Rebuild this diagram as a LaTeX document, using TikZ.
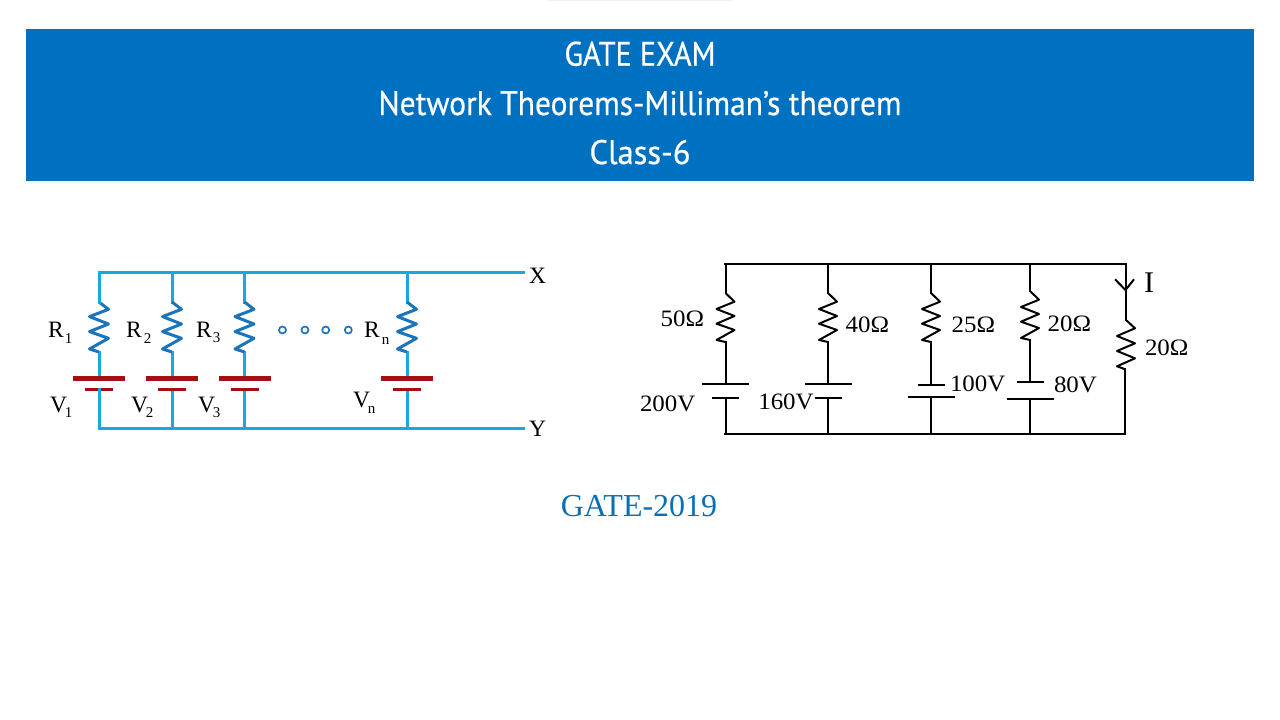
\documentclass[tikz,border=0pt]{standalone}
\usepackage{graphicx}
\usepackage{fontspec}
\setmainfont{Liberation Serif}
\newfontfamily\titlefont[FakeBold=0.6]{PT Sans}
\newfontfamily\valuefont[FakeStretch=1.06]{Liberation Serif}
\definecolor{banner}{HTML}{0070C0}
\definecolor{wireblue}{HTML}{18A8DE}
\definecolor{coilblue}{HTML}{1B75BC}
\definecolor{platered}{HTML}{A50E13}
\definecolor{yearblue}{HTML}{0B6FB3}
\tikzset{
  bluewire/.style={draw=wireblue,line width=3pt,line cap=rect,line join=miter},
  bluecoil/.style={draw=coilblue,line width=3pt,line join=round},
  longplate/.style={draw=platered,line width=4.4pt},
  shortplate/.style={draw=platered,line width=3pt},
  dotring/.style={draw=coilblue,line width=1.7pt,circle,minimum size=7pt,inner sep=0pt,fill=white},
  blackwire/.style={draw=black,line width=2pt,line cap=rect,line join=miter},
  blackcoil/.style={draw=black,line width=2pt,line join=round},
  blackplate/.style={draw=black,line width=2.2pt},
  lab/.style={inner sep=0pt,outer sep=0pt,anchor=base west,font=\fontsize{23.5}{28}\selectfont},
  vallab/.style={inner sep=0pt,outer sep=0pt,anchor=base west,font=\fontsize{23.5}{28}\valuefont\selectfont},
  titleline/.style={inner sep=0pt,anchor=base,text=white},
}
\newcommand{\sublab}[4]{#1\kern#2pt\raisebox{-#3pt}{\fontsize{15}{15}\selectfont #4}}
\newcommand{\titletext}[2]{\resizebox{#1pt}{\height}{\fontsize{34}{40}\titlefont\selectfont #2}}
\newcommand{\bluebranch}[2]{%
  \coordinate (#1t) at (#2,272.7);
  \coordinate (#1a) at (#2,302);
  \coordinate (#1b) at (#2,352);
  \coordinate (#1c) at (#2,378.3);
  \coordinate (#1d) at (#2,389.7);
  \coordinate (#1e) at (#2,428.7);
  \draw[bluewire] (#1t) -- (#1a) (#1b) -- (#1c) (#1d) -- (#1e);
  \draw[bluecoil] (#1a) -- ++(9.5,7.3) -- ++(-19,7.3) -- ++(19,7.4) -- ++(-19,7.6) -- ++(19,6.7) -- ++(-19,10.7) -- (#1b);
  \draw[longplate] ([xshift=-26pt]#1c) -- ([xshift=26pt]#1c);
  \draw[shortplate] ([xshift=-14pt]#1d) -- ([xshift=14pt]#1d);
}
% name, x, top of wire, start of coil, plate 1 y, half, plate 2 y, half
\newcommand{\blackbranch}[8]{%
  \coordinate (#1t) at (#2,#3);
  \coordinate (#1a) at (#2,#4);
  \coordinate (#1b) at (#2,#4+49);
  \coordinate (#1c) at (#2,#5);
  \coordinate (#1d) at (#2,#7);
  \coordinate (#1e) at (#2,434);
  \draw[blackwire] (#1t) -- (#1a) (#1b) -- (#1c) (#1d) -- (#1e);
  \draw[blackcoil] (#1a) -- ++(9,8.7) -- ++(-18,7.3) -- ++(18,7) -- ++(-18,7.7) -- ++(18,6.3) -- ++(-18,10) -- (#1b);
  \draw[blackplate] ([xshift=-#6pt]#1c) -- ([xshift=#6pt]#1c);
  \draw[blackplate] ([xshift=-#8pt]#1d) -- ([xshift=#8pt]#1d);
}
\begin{document}
\begin{tikzpicture}[x=1pt,y=-1pt]
\useasboundingbox (0,0) rectangle (1280,720);
% faint mark at the top edge and banner
\fill[black!5] (548,0) rectangle (732,1.2);
\fill[banner] (26,29) rectangle (1254,181);
\node[titleline] (t1) at (640,65.7) {\titletext{151}{GATE EXAM}};
\node[titleline] (t2) at (640,115) {\titletext{523}{Network Theorems-Milliman’s theorem}};
\node[titleline] (t3) at (640,164) {\titletext{101}{Class-6}};
% left circuit
\bluebranch{p}{99}
\bluebranch{q}{172}
\bluebranch{r}{244.5}
\bluebranch{s}{407}
\coordinate (xend) at (523,272.7);
\coordinate (yend) at (523,428.7);
\draw[bluewire] (xend) -- (pt) -- (pa);
\draw[bluewire] (yend) -- (pe) -- (pd);
\node[lab] (lX) at (529,283) {X};
\node[lab] (lY) at (529,436) {Y};
\node[lab] (lR1) at (48,337) {\sublab{R}{1.3}{6}{1}};
\node[lab] (lR2) at (126,337) {\sublab{R}{2.3}{6}{2}};
\node[lab] (lR3) at (196,337) {\sublab{R}{1.3}{5}{3}};
\node[lab] (lRn) at (364,337) {\sublab{R}{2.3}{7}{n}};
\node[lab] (lV1) at (50,412.7) {\sublab{V}{-2}{5}{1}};
\node[lab] (lV2) at (131,412.7) {\sublab{V}{-2}{5}{2}};
\node[lab] (lV3) at (198,412) {\sublab{V}{-2}{5}{3}};
\node[lab] (lVn) at (353,407) {\sublab{V}{-2}{6}{n}};
\node[dotring] (d1) at (282.5,330) {};
\node[dotring] (d2) at (305,330) {};
\node[dotring] (d3) at (325.7,330) {};
\node[dotring] (d4) at (348.3,330) {};
% right circuit
\blackbranch{A}{725.5}{264}{293}{383.7}{23.5}{398.3}{13.5}
\blackbranch{B}{828}{264}{293}{383.7}{23.5}{398.3}{13.5}
\blackbranch{C}{931}{266}{293}{385}{13.5}{397.3}{23.5}
\blackbranch{D}{1030}{264}{291}{382.3}{13.5}{398.7}{23.5}
\coordinate (Et) at (1126,263.7);
\coordinate (Ea) at (1126,320);
\coordinate (Eb) at (1124.5,369);
\coordinate (Ee) at (1124.5,434);
\coordinate (Ftl) at (724.5,263.7);
\coordinate (Fbl) at (724.5,434);
\draw[blackwire] (Ftl) -- (Et) -- (Ea);
\draw[blackwire] (Fbl) -- (Ee) -- (Eb);
\draw[blackcoil] (Ea) -- ++(9,8.3) -- ++(-18,7.7) -- ++(18,7.3) -- ++(-18,7.7) -- ++(18,7.3) -- ++(-18,8) -- (Eb);
\coordinate (Itip) at (1125.5,290);
\draw[blackwire,line cap=butt] (1115,279.3) -- (Itip) -- (1134,279.3);
\node[lab,font=\fontsize{30}{32}\selectfont] (lI) at (1144,292.7) {I};
\node[vallab] (a1) at (660.7,326) {50Ω};
\node[vallab] (a2) at (640,411.7) {200V};
\node[vallab] (b1) at (845.7,332.3) {40Ω};
\node[vallab] (b2) at (758.3,409.3) {160V};
\node[vallab] (c1) at (951.7,332.7) {25Ω};
\node[vallab] (c2) at (950,391.7) {100V};
\node[vallab] (d5) at (1047.7,331.7) {20Ω};
\node[vallab] (d6) at (1054,392.3) {80V};
\node[vallab] (e1) at (1145,355) {20Ω};
\node[inner sep=0pt,anchor=base,text=yearblue,font=\fontsize{32}{34}\selectfont] (year) at (639,516) {GATE-2019};
\end{tikzpicture}
\end{document}
